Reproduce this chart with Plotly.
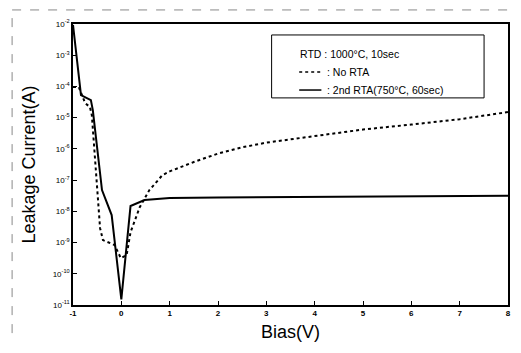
import plotly.graph_objects as go

# Data (bias in V, log10 of leakage current in A)
bias_no_rta = [-1.0, -0.88, -0.75, -0.65, -0.61, -0.53, -0.49, -0.44, -0.38, -0.14, -0.01,
               0.11, 0.19, 0.38, 0.58, 0.85, 1.0, 1.5, 2.0, 2.5, 3.0, 4.0, 5.0, 6.0, 7.0, 8.0]
log_i_no_rta = [-4.02, -4.02, -4.53, -4.66, -4.92, -6.68, -7.32, -8.54, -8.92, -9.08, -9.5,
                -9.4, -8.67, -7.87, -7.32, -6.84, -6.72, -6.42, -6.15, -5.95, -5.8, -5.58,
                -5.38, -5.22, -5.05, -4.82]

bias_rta2 = [-1.0, -0.835, -0.63, -0.59, -0.40, -0.20, 0.0, 0.19, 0.48, 1.0, 2.0, 3.0,
             4.0, 5.0, 6.0, 7.0, 8.0]
log_i_rta2 = [-2.03, -4.28, -4.44, -4.76, -7.32, -8.12, -10.82, -7.83, -7.64, -7.57, -7.56,
              -7.55, -7.54, -7.53, -7.52, -7.51, -7.50]

cur_no_rta = [10 ** v for v in log_i_no_rta]
cur_rta2 = [10 ** v for v in log_i_rta2]

x_ticks = [-1, 0, 1, 2, 3, 4, 5, 6, 7, 8]
y_exps = [-2, -3, -4, -5, -6, -7, -8, -9, -10, -11]
y_ticks = [10 ** e for e in y_exps]
y_ticktext = ["10<sup>%d</sup>" % e for e in y_exps]

legend_title = "RTD : 1000°C, 10sec"
name_no_rta = "No RTA"
name_rta2 = "2nd RTA(750°C, 60sec)"

fig = go.Figure()
fig.add_trace(go.Scatter(x=bias_no_rta, y=cur_no_rta, mode="lines", name=name_no_rta,
                         line=dict(color="black", width=2, dash="dot"), showlegend=False))
fig.add_trace(go.Scatter(x=bias_rta2, y=cur_rta2, mode="lines", name=name_rta2,
                         line=dict(color="black", width=2), showlegend=False))

font_fam = "Liberation Sans, Arial, sans-serif"

fig.update_layout(
    width=513, height=345,
    margin=dict(l=65, r=10, t=16, b=48),
    paper_bgcolor="white", plot_bgcolor="white",
    font=dict(family=font_fam, color="black"),
    xaxis=dict(range=[-1, 8.0001], tickvals=x_ticks, ticktext=["<b>%d</b>" % v for v in x_ticks],
               ticks="inside", ticklen=4, tickwidth=1, tickcolor="black",
               showline=True, linecolor="black", linewidth=1.5, mirror=True,
               showgrid=False, zeroline=False,
               tickfont=dict(size=8, family=font_fam),
               title=dict(text="Bias(V)", font=dict(size=18, family=font_fam), standoff=8)),
    yaxis=dict(type="log", range=[-11, -2], tickvals=y_ticks, ticktext=y_ticktext,
               ticks="inside", ticklen=4, tickwidth=1, tickcolor="black",
               showline=True, linecolor="black", linewidth=1.5, mirror=True,
               showgrid=False, zeroline=False,
               tickfont=dict(size=8, family=font_fam),
               title=dict(text="Leakage Current(A)", font=dict(size=18, family=font_fam), standoff=12)),
)

# Legend box drawn manually
fig.add_shape(type="rect", xref="paper", yref="paper", x0=0.4566, x1=0.945, y0=0.737, y1=0.961,
              line=dict(color="black", width=1), fillcolor="white", layer="above")
fig.add_shape(type="line", xref="paper", yref="paper", x0=0.52, x1=0.571, y0=0.829, y1=0.829,
              line=dict(color="black", width=1.5, dash="dot"))
fig.add_shape(type="line", xref="paper", yref="paper", x0=0.52, x1=0.571, y0=0.765, y1=0.765,
              line=dict(color="black", width=1.5))
fig.add_annotation(xref="paper", yref="paper", x=0.517, y=0.893, text=legend_title,
                   showarrow=False, xanchor="left", yanchor="middle",
                   font=dict(size=10.5, family=font_fam))
fig.add_annotation(xref="paper", yref="paper", x=0.58, y=0.829, text=": " + name_no_rta,
                   showarrow=False, xanchor="left", yanchor="middle",
                   font=dict(size=10.5, family=font_fam))
fig.add_annotation(xref="paper", yref="paper", x=0.58, y=0.765, text=": " + name_rta2,
                   showarrow=False, xanchor="left", yanchor="middle",
                   font=dict(size=10.5, family=font_fam))

# faint scan border
fig.add_shape(type="line", xref="paper", yref="paper", x0=-0.14, x1=1.02, y0=1.05, y1=1.05,
              line=dict(color="#888888", width=1, dash="dash"))
fig.add_shape(type="line", xref="paper", yref="paper", x0=-0.14, x1=-0.14, y0=-0.1, y1=1.05,
              line=dict(color="#888888", width=1, dash="dash"))

fig.write_html("out.html")
